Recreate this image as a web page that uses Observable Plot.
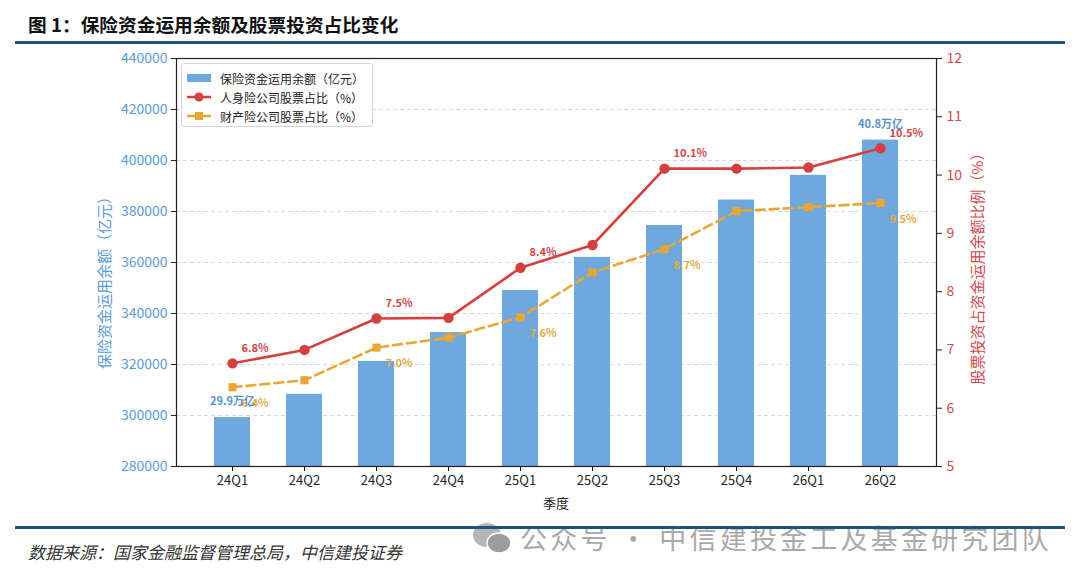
<!DOCTYPE html>
<html><head><meta charset="utf-8">
<script src="https://cdn.jsdelivr.net/npm/d3@7"></script>
<script src="https://cdn.jsdelivr.net/npm/@observablehq/plot@0.6"></script>
<style>
body{margin:0;background:#fff;font-family:"Noto Sans CJK SC","Noto Sans",sans-serif;}
#wrap{position:relative;width:1080px;height:578px;overflow:hidden;background:#fff;}
#title{position:absolute;left:28px;top:10px;font-size:18.7px;font-weight:bold;color:#111;white-space:nowrap;}
.rule{position:absolute;left:15px;width:1050px;height:3px;background:#1d5478;}
#chart{position:absolute;left:0;top:44px;}
.vlab{position:absolute;white-space:nowrap;font-size:15px;transform:translate(-50%,-50%) rotate(-90deg);}
#xlab{position:absolute;left:556px;top:502px;transform:translate(-50%,-50%);font-size:13px;color:#222;}
#legend{position:absolute;left:181px;top:63px;width:190px;height:62px;border:1px solid #d4d4d4;border-radius:3px;background:rgba(255,255,255,0.85);font-size:12px;color:#222;}
.li{position:absolute;left:5px;height:18px;display:flex;align-items:center;}
.li svg{margin-right:9px;}
#source{position:absolute;left:28px;top:539px;font-size:17px;font-style:italic;color:#333;white-space:nowrap;}
#wm{position:absolute;left:472px;top:518px;color:#a9a9a9;font-size:27px;white-space:nowrap;display:flex;align-items:center;}
</style></head><body>
<div id="wrap">
  <div id="title">图 1：保险资金运用余额及股票投资占比变化</div>
  <div class="rule" style="top:41px"></div>
  <div id="chart"></div>
  <div class="vlab" style="left:103px;top:279px;color:#5b9bd5;">保险资金运用余额（亿元）</div>
  <div class="vlab" style="left:976px;top:265px;color:#d24a4a;">股票投资占资金运用余额比例（%）</div>
  <div id="xlab">季度</div>
  <div id="legend">
    <div class="li" style="top:5px"><svg width="24" height="10"><rect x="0" y="1" width="24" height="8" fill="#6fa8dc"/></svg>保险资金运用余额（亿元）</div>
    <div class="li" style="top:24px"><svg width="24" height="12"><line x1="0" y1="6" x2="24" y2="6" stroke="#d63f3f" stroke-width="2.5"/><circle cx="12" cy="6" r="4.5" fill="#d63f3f"/></svg>人身险公司股票占比（%）</div>
    <div class="li" style="top:43px"><svg width="24" height="12"><line x1="0" y1="6" x2="24" y2="6" stroke="#e8a735" stroke-width="2.5"/><rect x="8" y="2" width="8" height="8" fill="#e8a735"/></svg>财产险公司股票占比（%）</div>
  </div>
  <div id="wm"><svg width="42" height="36" style="margin-right:6px"><ellipse cx="15" cy="15" rx="14" ry="12" fill="#b5b5b5"/><ellipse cx="27" cy="23" rx="12" ry="10" fill="#9d9d9d" stroke="#fff" stroke-width="1.5"/></svg><span style="letter-spacing:3.2px">公众号 · 中信建投金工及基金研究团队</span></div>
  <div class="rule" style="top:526px"></div>
  <div id="source">数据来源：国家金融监督管理总局，中信建投证券</div>
</div>
<script>
const quarters = ["24Q1","24Q2","24Q3","24Q4","25Q1","25Q2","25Q3","25Q4","26Q1","26Q2"];
const balance = [299200, 308300, 321200, 332500, 349000, 362000, 374500, 384500, 394200, 408000];
const lifeShare = [6.77, 7.00, 7.54, 7.55, 8.41, 8.80, 10.11, 10.11, 10.13, 10.46];
const propShare = [6.36, 6.48, 7.04, 7.21, 7.56, 8.33, 8.73, 9.38, 9.45, 9.52];
const leftTicks = [280000, 300000, 320000, 340000, 360000, 380000, 400000, 420000, 440000];
const rightTicks = [5, 6, 7, 8, 9, 10, 11, 12];
const lifeLabelIdx = [0, 2, 4, 6, 9];
const lifeLabelText = ["6.8%", "7.5%", "8.4%", "10.1%", "10.5%"];
const propLabelIdx = [0, 2, 4, 6, 9];
const propLabelText = ["6.4%", "7.0%", "7.6%", "8.7%", "9.5%"];
const barLabelIdx = [0, 9];
const barLabelText = ["29.9万亿", "40.8万亿"];

const Y0 = leftTicks[0], Y1 = leftTicks[leftTicks.length - 1];
const R0 = rightTicks[0], R1 = rightTicks[rightTicks.length - 1];
const toLeft = v => Y0 + (v - R0) * (Y1 - Y0) / (R1 - R0);
const toRight = y => R0 + (y - Y0) * (R1 - R0) / (Y1 - Y0);

const rows = quarters.map((q, i) => ({q, balance: balance[i], life: lifeShare[i], prop: propShare[i]}));
const lifeLabels = lifeLabelIdx.map((i, k) => ({q: quarters[i], v: lifeShare[i], t: lifeLabelText[k]}));
const propLabels = propLabelIdx.map((i, k) => ({q: quarters[i], v: propShare[i], t: propLabelText[k]}));
const barLabels = barLabelIdx.map((i, k) => ({q: quarters[i], v: balance[i], t: barLabelText[k]}));

const RED = "#d63f3f", ORANGE = "#e8a735", BLUE = "#6fa8dc";

const chart = Plot.plot({
  width: 1080, height: 471,
  marginLeft: 176, marginRight: 144, marginTop: 14, marginBottom: 49,
  style: {fontFamily: "'Noto Sans CJK SC','Noto Sans',sans-serif", background: "transparent", overflow: "visible"},
  x: {type: "band", domain: quarters, paddingInner: 0.5, paddingOuter: 0.479, label: null, axis: null},
  y: {domain: [Y0, Y1], label: null, axis: null},
  marks: [
    Plot.gridY(leftTicks.slice(1, -1), {stroke: "#cfcfcf", strokeOpacity: 1, strokeDasharray: "4,3", strokeWidth: 0.8}),
    Plot.barY(rows, {x: "q", y1: () => Y0, y2: "balance", fill: BLUE}),
    Plot.line(rows, {x: "q", y: d => toLeft(d.prop), stroke: ORANGE, strokeWidth: 2.6, strokeDasharray: "9,5"}),
    Plot.dot(rows, {x: "q", y: d => toLeft(d.prop), symbol: "square", r: 4.6, fill: ORANGE, stroke: null}),
    Plot.line(rows, {x: "q", y: d => toLeft(d.life), stroke: RED, strokeWidth: 2.6}),
    Plot.dot(rows, {x: "q", y: d => toLeft(d.life), r: 5.2, fill: RED, stroke: null}),
    Plot.text(lifeLabels, {x: "q", y: d => toLeft(d.v), text: "t", dx: 9, dy: -15, textAnchor: "start", fill: "#d04848", fontWeight: "bold", fontSize: 11}),
    Plot.text(propLabels, {x: "q", y: d => toLeft(d.v), text: "t", dx: 9, dy: 16, textAnchor: "start", fill: "#e5ab3f", fontWeight: "bold", fontSize: 11}),
    Plot.text(barLabels, {x: "q", y: "v", text: "t", dy: -16, fill: "#5592cf", fontWeight: "bold", fontSize: 11}),
    Plot.axisY(leftTicks, {anchor: "left", tickSize: 5, tickPadding: 4, fontSize: 14, stroke: "#222", fill: "#5b9bd5", tickFormat: d => String(d), label: null}),
    Plot.axisY(rightTicks.map(toLeft), {anchor: "right", tickSize: 5, tickPadding: 5, fontSize: 14, stroke: "#222", fill: "#d24a4a", tickFormat: d => String(Math.round(toRight(d))), label: null}),
    Plot.axisX(quarters, {tickSize: 5, tickPadding: 4, fontSize: 13, stroke: "#222", fill: "#222", label: null}),
    Plot.frame({stroke: "#222", strokeWidth: 1.2})
  ]
});
document.getElementById("chart").appendChild(chart);
</script>
</body></html>
